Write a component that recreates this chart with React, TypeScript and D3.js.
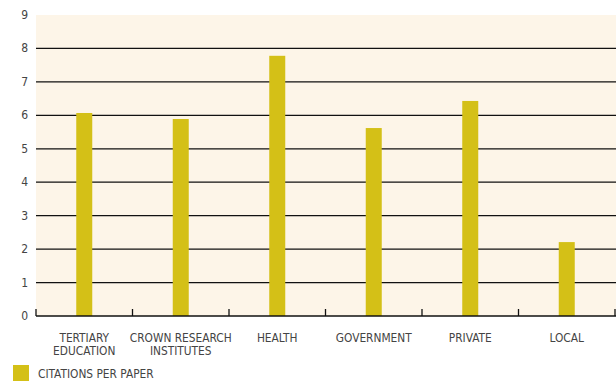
import React from "react";
import * as d3 from "d3";

const categories: string[][] = [
  ["TERTIARY", "EDUCATION"],
  ["CROWN RESEARCH", "INSTITUTES"],
  ["HEALTH"],
  ["GOVERNMENT"],
  ["PRIVATE"],
  ["LOCAL"],
];
const values = [6.07, 5.89, 7.78, 5.62, 6.43, 2.21];
const yTicks = [0, 1, 2, 3, 4, 5, 6, 7, 8, 9];
const seriesName = "CITATIONS PER PAPER";

export default function App() {
  const W = 616, H = 381;
  const left = 36, right = 615, top = 15, bottom = 316;
  const x = d3.scaleBand<number>().domain(d3.range(values.length)).range([left, right]).padding(0);
  const y = d3.scaleLinear().domain([0, 9]).range([bottom, top]);
  const barW = 16;
  const font = "'DejaVu Sans Condensed', 'DejaVu Sans', sans-serif";
  return (
    <svg width={W} height={H} style={{ position: "absolute", left: 0, top: 0 }}>
      <rect x={0} y={0} width={W} height={H} fill="#fff" />
      <rect x={left} y={top} width={W - left} height={bottom - top} fill="#fdf5e8" />
      {yTicks.filter((t) => t > 0 && t < 9).map((t) => (
        <line key={t} x1={left} x2={W} y1={y(t)} y2={y(t)} stroke="#111" strokeWidth={1.3} />
      ))}
      {yTicks.map((t) => (
        <text key={t} x={28} y={y(t) + 4} textAnchor="end" fontSize={12} fill="#444" fontFamily={font}>
          {t}
        </text>
      ))}
      {values.map((v, i) => (
        <rect key={i} x={x(i)! + x.bandwidth() / 2 - barW / 2} y={y(v)} width={barW} height={bottom - y(v)} fill="#d4c017" />
      ))}
      <line x1={left} x2={right + 1} y1={bottom} y2={bottom} stroke="#111" strokeWidth={1.5} />
      {d3.range(values.length + 1).map((i) => {
        const xx = i < values.length ? x(i)! : right;
        return <line key={i} x1={xx} x2={xx} y1={bottom} y2={bottom - 7} stroke="#111" strokeWidth={1.3} />;
      })}
      {categories.map((lines, i) => (
        <text key={i} textAnchor="middle" fontSize={11.8} fill="#444" fontFamily={font}>
          {lines.map((l, j) => (
            <tspan key={j} x={x(i)! + x.bandwidth() / 2} y={342 + j * 13}>{l}</tspan>
          ))}
        </text>
      ))}
      <rect x={13} y={365} width={16} height={16} fill="#d4c017" />
      <text x={38} y={378} fontSize={11.8} fill="#444" fontFamily={font}>{seriesName}</text>
    </svg>
  );
}
